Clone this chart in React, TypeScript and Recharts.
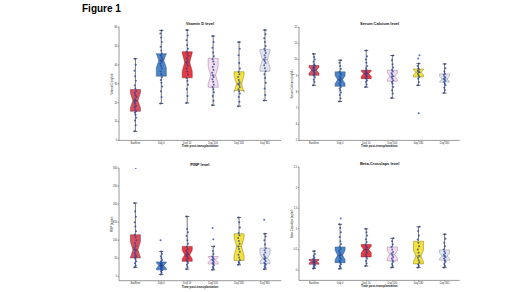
import React from 'react';
import { ComposedChart, Bar, Scatter, XAxis, YAxis } from 'recharts';

const categories = ['Baseline', 'Day 0', 'Day 14', 'Day 100', 'Day 180', 'Day 365'];

// ---- Vitamin D level ----
const vitdLow = [4.8, 19.5, 19.8, 18.6, 18.1, 21.1];
const vitdQ1 = [15.4, 34, 33.1, 28.1, 26.4, 36.6];
const vitdMed = [21, 42.3, 41.4, 34.5, 29.9, 42.8];
const vitdQ3 = [26.9, 45.8, 46.9, 43.4, 36.3, 48.1];
const vitdHigh = [43.2, 58.2, 58.4, 55.2, 52, 58.4];
const vitdNotchLo = [17.2, 38.5, 36.5, 30, 25.5, 38.5];
const vitdNotchHi = [25.1, 46, 46.3, 39, 34.3, 47];
const vitdPoints = [
  [4.8, 8, 10.5, 12, 13.5, 14.6, 15.4, 16.3, 17.5, 18.2, 19.4, 20.3, 21, 21.8, 22.9, 24, 25.1, 26.2, 27.5, 29, 31.5, 34, 36.8, 40, 43.2],
  [19.5, 23, 26, 28.5, 30.5, 32, 33.4, 35, 36.5, 38, 39.4, 40.6, 41.5, 42.3, 43.1, 44, 45, 46, 47.5, 49.5, 52, 54.5, 56.5, 58.2],
  [19.8, 23.5, 27, 29.5, 31.5, 33, 34.8, 36.4, 38, 39.5, 40.6, 41.4, 42.5, 43.6, 44.8, 46, 47, 48.5, 50.5, 53, 55.5, 58.4],
  [18.6, 21, 23.5, 25.5, 27, 28.3, 29.5, 31, 32.4, 33.6, 34.5, 35.8, 37.2, 38.8, 40.3, 41.7, 43, 44.5, 46.5, 49, 52, 55.2],
  [18.1, 20.5, 23, 24.8, 26, 27, 28.2, 29.3, 29.9, 30.8, 32, 33.5, 35, 36.2, 38, 41, 45, 48.5, 52],
  [21.1, 24, 27.5, 30.5, 33, 35, 36.6, 38.2, 39.8, 41, 42, 42.8, 43.8, 45, 46.2, 47.4, 48.5, 50, 52, 54, 56.2, 58.4],
];
const vitdTicks = [0, 10, 20, 30, 40, 50, 60];

// ---- Serum Calcium level ----
const caLow = [8.4, 7.4, 8.29, 7.61, 8.4, 7.92];
const caQ1 = [9.02, 8.34, 8.81, 8.65, 8.92, 8.6];
const caMed = [9.33, 8.75, 9.12, 8.96, 9.2, 8.79];
const caQ3 = [9.62, 9.23, 9.33, 9.33, 9.41, 9.1];
const caHigh = [10.34, 9.95, 10.55, 10.24, 9.74, 9.72];
const caNotchLo = [9.15, 8.5, 8.95, 8.75, 9.05, 8.62];
const caNotchHi = [9.52, 9.0, 9.28, 9.17, 9.35, 8.96];
const caPoints = [
  [8.4, 8.6, 8.75, 8.9, 9.0, 9.05, 9.15, 9.2, 9.28, 9.33, 9.4, 9.45, 9.5, 9.58, 9.62, 9.7, 9.85, 10.0, 10.15, 10.34],
  [7.4, 7.6, 7.8, 7.95, 8.1, 8.2, 8.3, 8.4, 8.5, 8.6, 8.7, 8.75, 8.85, 8.95, 9.05, 9.15, 9.25, 9.4, 9.6, 9.8, 9.95],
  [8.29, 8.45, 8.6, 8.7, 8.8, 8.88, 8.95, 9.02, 9.1, 9.15, 9.2, 9.28, 9.33, 9.45, 9.6, 9.8, 10.0, 10.2, 10.55],
  [7.61, 7.9, 8.1, 8.3, 8.5, 8.6, 8.7, 8.8, 8.9, 8.96, 9.05, 9.15, 9.25, 9.35, 9.5, 9.7, 9.95, 10.24],
  [8.4, 8.6, 8.8, 8.92, 9.0, 9.1, 9.2, 9.25, 9.3, 9.38, 9.45, 9.6, 9.74, 10.05, 10.26, 6.68],
  [7.92, 8.1, 8.25, 8.4, 8.5, 8.6, 8.68, 8.75, 8.8, 8.88, 8.95, 9.05, 9.12, 9.25, 9.45, 9.72],
];
const caTicks = [5, 6, 7, 8, 9, 10, 11, 12];

// ---- PINP level ----
const pinpLow = [25, 5, 20, 18, 32, 20];
const pinpQ1 = [51, 18, 41.5, 34, 44, 35];
const pinpMed = [74, 30, 60, 46, 83, 51];
const pinpQ3 = [115, 40, 83, 55, 118, 78];
const pinpHigh = [203, 69, 166, 83, 163, 118];
const pinpNotchLo = [52, 22, 48, 39, 58, 40];
const pinpNotchHi = [96, 38, 72, 53, 108, 63];
const pinpPoints = [
  [25, 30, 36, 42, 48, 52, 56, 60, 65, 70, 74, 79, 85, 92, 100, 108, 115, 125, 138, 150, 165, 180, 203, 300],
  [5, 10, 14, 17, 20, 22, 25, 27, 29, 31, 33, 35, 38, 41, 45, 50, 56, 62, 69, 100],
  [20, 26, 32, 37, 41, 45, 50, 54, 58, 62, 66, 71, 76, 82, 90, 100, 112, 122, 131, 166],
  [18, 22, 26, 30, 34, 37, 40, 43, 46, 49, 52, 55, 62, 70, 83, 103, 134],
  [32, 36, 40, 45, 52, 60, 68, 76, 83, 90, 98, 106, 114, 120, 135, 150, 163],
  [20, 24, 28, 32, 35, 38, 42, 46, 49, 51, 55, 60, 66, 72, 78, 88, 100, 110, 118, 157],
];
const pinpTicks = [0, 50, 100, 150, 200, 250, 300];

// ---- Beta-Crosslaps level ----
const bcLow = [0.04, 0.03, 0.1, 0.06, 0.06, 0.06];
const bcQ1 = [0.14, 0.18, 0.32, 0.22, 0.15, 0.24];
const bcMed = [0.2, 0.36, 0.5, 0.38, 0.34, 0.34];
const bcQ3 = [0.26, 0.56, 0.62, 0.56, 0.7, 0.49];
const bcHigh = [0.46, 1.11, 1.0, 0.77, 1.05, 0.87];
const bcNotchLo = [0.17, 0.25, 0.42, 0.29, 0.2, 0.28];
const bcNotchHi = [0.24, 0.48, 0.58, 0.47, 0.48, 0.41];
const bcPoints = [
  [0.04, 0.07, 0.1, 0.12, 0.14, 0.16, 0.18, 0.2, 0.21, 0.23, 0.25, 0.27, 0.3, 0.34, 0.39, 0.46],
  [0.03, 0.06, 0.1, 0.14, 0.18, 0.22, 0.26, 0.3, 0.34, 0.38, 0.42, 0.47, 0.52, 0.57, 0.63, 0.7, 0.8, 0.92, 1.02, 1.11, 1.25],
  [0.1, 0.16, 0.22, 0.28, 0.33, 0.38, 0.42, 0.46, 0.5, 0.54, 0.58, 0.62, 0.68, 0.75, 0.84, 0.92, 1.0],
  [0.06, 0.1, 0.15, 0.2, 0.24, 0.28, 0.32, 0.36, 0.4, 0.44, 0.5, 0.56, 0.62, 0.7, 0.77],
  [0.06, 0.1, 0.14, 0.19, 0.24, 0.3, 0.35, 0.42, 0.5, 0.58, 0.66, 0.74, 0.84, 0.95, 1.05],
  [0.06, 0.1, 0.15, 0.2, 0.24, 0.28, 0.31, 0.34, 0.37, 0.41, 0.45, 0.5, 0.58, 0.66, 0.76, 0.87],
];
const bcTicks = [0, 0.5, 1, 1.5, 2, 2.5];

// ---- styles ----
const boxFills = ['#d9505c', '#4d86c4', '#e83a3f', '#f2dced', '#f4e23a', '#e4e4ee'];
const boxStrokes = ['#7a2a33', '#2a4f7a', '#8f1f22', '#a07a9a', '#8a7f1a', '#8c8c9c'];
const FONT = '"Liberation Sans", Arial, sans-serif';

function makeRows(low: number[], q1: number[], med: number[], q3: number[], high: number[], nlo: number[], nhi: number[]) {
  return categories.map((cat, i) => ({
    cat,
    idx: i,
    range: [low[i], high[i]],
    low: low[i], q1: q1[i], med: med[i], q3: q3[i], high: high[i], nlo: nlo[i], nhi: nhi[i],
  }));
}

function jitter(j: number) {
  return (((j * 7) % 11) - 5) * 0.007;
}

function makePoints(groups: number[][]) {
  return groups.flatMap((vals, i) => vals.map((v, j) => ({ x: i + jitter(j), y: v })));
}

const BoxShape = (props: any) => {
  const { x, y, width, height, payload } = props;
  if (!payload || height === undefined) return null;
  const top = Math.min(y, y + height);
  const h = Math.abs(height);
  const { low, q1, med, q3, high, nlo, nhi, idx } = payload;
  const py = (v: number) => top + (h * (high - v)) / (high - low);
  const cx = x + width / 2;
  const l = x;
  const r = x + width;
  const inset = width * 0.25;
  const pts = [
    [l, py(q3)], [r, py(q3)], [r, py(nhi)], [r - inset, py(med)], [r, py(nlo)], [r, py(q1)],
    [l, py(q1)], [l, py(nlo)], [l + inset, py(med)], [l, py(nhi)],
  ].map((p) => p.join(',')).join(' ');
  const cap = 2;
  return (
    <g>
      <line x1={cx} x2={cx} y1={py(high)} y2={py(q3)} stroke="#222" strokeWidth={0.6} />
      <line x1={cx} x2={cx} y1={py(q1)} y2={py(low)} stroke="#222" strokeWidth={0.6} />
      <line x1={cx - cap} x2={cx + cap} y1={py(high)} y2={py(high)} stroke="#222" strokeWidth={0.7} />
      <line x1={cx - cap} x2={cx + cap} y1={py(low)} y2={py(low)} stroke="#222" strokeWidth={0.7} />
      <polygon points={pts} fill={boxFills[idx]} stroke={boxStrokes[idx]} strokeWidth={0.5} />
      <line x1={l + inset} x2={r - inset} y1={py(med)} y2={py(med)} stroke={boxStrokes[idx]} strokeWidth={0.6} />
    </g>
  );
};

const DotShape = (props: any) => {
  const { cx, cy } = props;
  if (cx === undefined || cy === undefined) return null;
  return <circle cx={cx} cy={cy} r={1} fill="#1f3f9e" fillOpacity={0.75} />;
};

const panels = [
  {
    key: 'vitd', title: 'Vitamin D level', ylabel: 'Vitamin D (ng/ml)',
    rows: makeRows(vitdLow, vitdQ1, vitdMed, vitdQ3, vitdHigh, vitdNotchLo, vitdNotchHi),
    points: makePoints(vitdPoints), domain: [0, 60], ticks: vitdTicks,
    l: 118.7, r: 281, t: 27.3, b: 140.7, pad: 3.4,
  },
  {
    key: 'ca', title: 'Serum Calcium level', ylabel: 'Serum Calcium (mg/dL)',
    rows: makeRows(caLow, caQ1, caMed, caQ3, caHigh, caNotchLo, caNotchHi),
    points: makePoints(caPoints), domain: [5, 12], ticks: caTicks,
    l: 299.3, r: 460, t: 27.3, b: 140.7, pad: 2,
  },
  {
    key: 'pinp', title: 'PINP level', ylabel: 'PINP (ng/ml)',
    rows: makeRows(pinpLow, pinpQ1, pinpMed, pinpQ3, pinpHigh, pinpNotchLo, pinpNotchHi),
    points: makePoints(pinpPoints), domain: [-12, 300], ticks: pinpTicks,
    l: 118.7, r: 281, t: 168, b: 280.7, pad: 3.4,
  },
  {
    key: 'bc', title: 'Beta-Crosslaps level', ylabel: 'Beta-Crosslaps (ng/ml)',
    rows: makeRows(bcLow, bcQ1, bcMed, bcQ3, bcHigh, bcNotchLo, bcNotchHi),
    points: makePoints(bcPoints), domain: [-0.25, 2.5], ticks: bcTicks,
    l: 299.3, r: 460, t: 167.3, b: 280.7, pad: 2,
  },
];

const ML = 22;
const MT = 8;
const MR = 6;
const MB = 12;
const YW = 9;
const XH = 7;

function Panel({ p }: { p: any }) {
  const w = p.r - p.l + ML + MR;
  const h = p.b - p.t + MT + MB;
  return (
    <div style={{ position: 'absolute', left: p.l - ML, top: p.t - MT, width: w, height: h }}>
      <ComposedChart
        width={w}
        height={h}
        data={p.rows}
        margin={{ top: MT, right: MR, left: ML - YW, bottom: MB - XH }}
      >
        <XAxis
          xAxisId="c"
          dataKey="cat"
          type="category"
          interval={0}
          padding={{ left: p.pad, right: p.pad }}
          height={XH}
          tickSize={1.2}
          tickMargin={0.4}
          stroke="#555"
          strokeWidth={0.6}
          tick={{ fontSize: 2.6, fill: '#333', fontFamily: FONT }}
          label={{ value: 'Time post-transplantation', position: 'insideBottom', offset: 0, fontSize: 3, fill: '#222', fontWeight: 'bold', fontFamily: FONT }}
        />
        <XAxis
          xAxisId="n"
          dataKey="x"
          type="number"
          domain={[-0.5, 5.5]}
          padding={{ left: p.pad, right: p.pad }}
          allowDataOverflow
          hide
        />
        <YAxis
          type="number"
          domain={p.domain}
          ticks={p.ticks}
          interval={0}
          allowDataOverflow
          width={YW}
          tickSize={1.2}
          tickMargin={0.5}
          stroke="#555"
          strokeWidth={0.6}
          tick={{ fontSize: 2.6, fill: '#333', fontFamily: FONT }}
          label={{ value: p.ylabel, angle: -90, position: 'insideLeft', offset: 2.5, fontSize: 2.8, fill: '#222', fontFamily: FONT, style: { textAnchor: 'middle' } }}
        />
        <Bar xAxisId="c" dataKey="range" barSize={10} shape={BoxShape} isAnimationActive={false} />
        <Scatter xAxisId="n" data={p.points} dataKey="y" shape={DotShape} isAnimationActive={false} />
      </ComposedChart>
      <div
        style={{
          position: 'absolute', left: ML, top: MT - 5.3, width: p.r - p.l, textAlign: 'center',
          fontFamily: FONT, fontWeight: 'bold', fontSize: 4, lineHeight: '4px', color: '#111', whiteSpace: 'nowrap',
        }}
      >
        {p.title}
      </div>
    </div>
  );
}

export default function App() {
  return (
    <div style={{ position: 'absolute', left: 0, top: 0, width: 520, height: 292, background: '#fff', overflow: 'hidden' }}>
      <div
        style={{
          position: 'absolute', left: 82, top: 3.8, fontFamily: FONT, fontWeight: 'bold', fontSize: 10,
          lineHeight: '10px', color: '#000', whiteSpace: 'nowrap',
        }}
      >
        Figure 1
      </div>
      {panels.map((p) => (
        <Panel key={p.key} p={p} />
      ))}
    </div>
  );
}
